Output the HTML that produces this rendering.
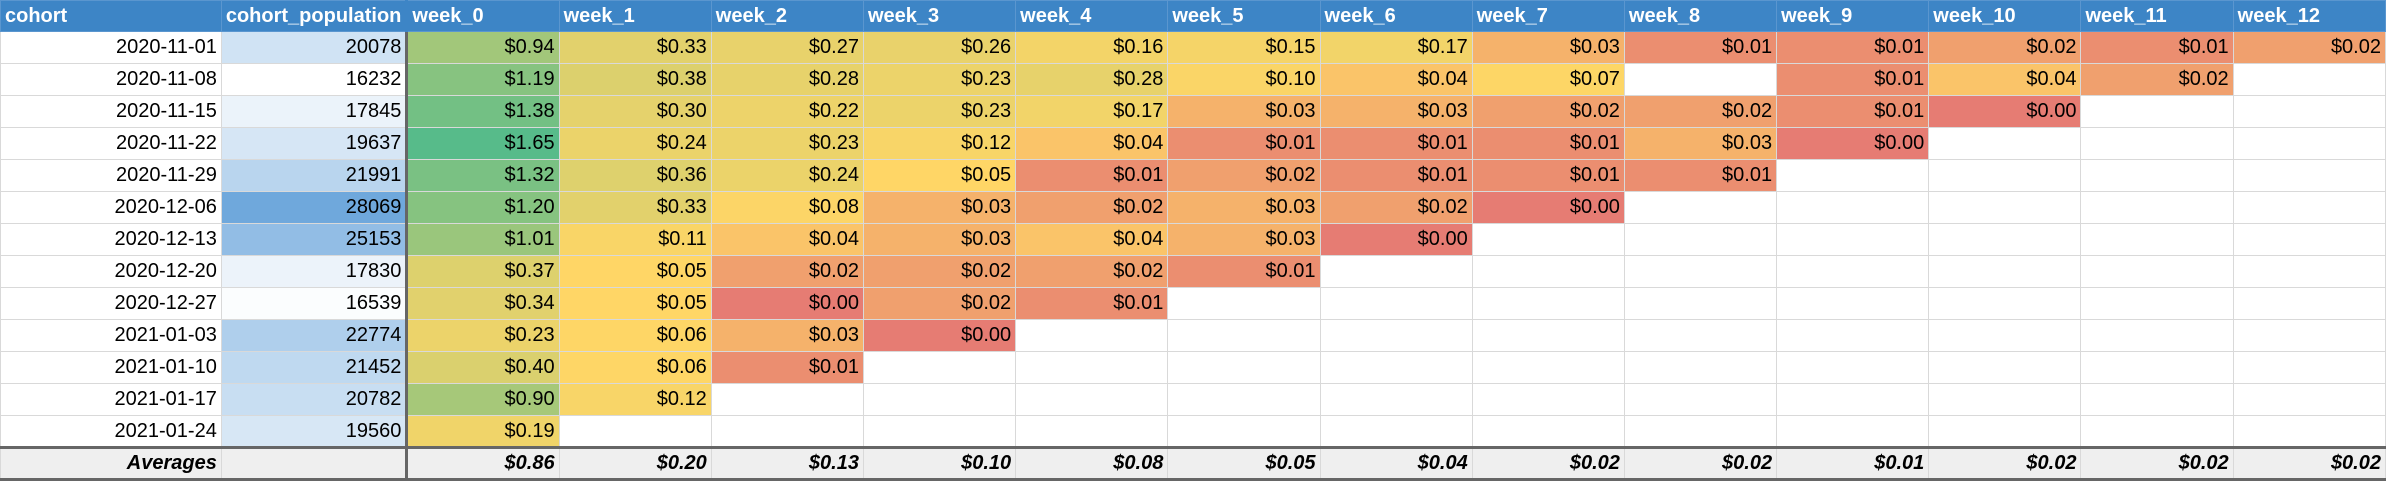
<!DOCTYPE html>
<html><head><meta charset="utf-8">
<style>
html,body{margin:0;padding:0;background:#fff;width:2386px;height:482px;overflow:hidden}
table{border-collapse:collapse;table-layout:fixed;font-family:"Liberation Sans",Arial,sans-serif;font-size:20px;}
td,th{border:1px solid #d9d9d9;height:32px;padding:0 4px;white-space:nowrap;overflow:hidden;text-align:right;box-sizing:border-box}
th{background:#3d85c6;color:#fff;text-align:left;font-weight:bold;border-color:#5a96cf;height:31px}
td.pop{border-right:3px solid #666}
th.pop{border-right:3px solid #3d85c6}
tr.avg td{background:#efefef;font-weight:bold;font-style:italic;border-top:3px solid #666;border-bottom:3px solid #666;height:32px}
</style></head>
<body>
<table id="tbl">
<colgroup><col style="width:221px"><col style="width:185px"></colgroup>
<thead><tr id="hdr"></tr></thead>
<tbody id="body"></tbody>
</table>
<script>
const cohorts=["2020-11-01","2020-11-08","2020-11-15","2020-11-22","2020-11-29","2020-12-06","2020-12-13","2020-12-20","2020-12-27","2021-01-03","2021-01-10","2021-01-17","2021-01-24"];
const populations=[20078,16232,17845,19637,21991,28069,25153,17830,16539,22774,21452,20782,19560];
const weeks=["week_0","week_1","week_2","week_3","week_4","week_5","week_6","week_7","week_8","week_9","week_10","week_11","week_12"];
const revenue=[
[0.94,0.33,0.27,0.26,0.16,0.15,0.17,0.03,0.01,0.01,0.02,0.01,0.02],
[1.19,0.38,0.28,0.23,0.28,0.10,0.04,0.07,null,0.01,0.04,0.02,null],
[1.38,0.30,0.22,0.23,0.17,0.03,0.03,0.02,0.02,0.01,0.00],
[1.65,0.24,0.23,0.12,0.04,0.01,0.01,0.01,0.03,0.00],
[1.32,0.36,0.24,0.05,0.01,0.02,0.01,0.01,0.01],
[1.20,0.33,0.08,0.03,0.02,0.03,0.02,0.00],
[1.01,0.11,0.04,0.03,0.04,0.03,0.00],
[0.37,0.05,0.02,0.02,0.02,0.01],
[0.34,0.05,0.00,0.02,0.01],
[0.23,0.06,0.03,0.00],
[0.40,0.06,0.01],
[0.90,0.12],
[0.19]];
const averages=[0.86,0.20,0.13,0.10,0.08,0.05,0.04,0.02,0.02,0.01,0.02,0.02,0.02];

function mix(a,b,t){return a.map((v,i)=>Math.round(v+(b[i]-v)*t));}
const RED=[230,124,115],YEL=[255,214,102],GRN=[87,187,138];
function heat(v){
  let c;
  if(v<=0.05)c=mix(RED,YEL,Math.max(0,v)/0.05);
  else c=mix(YEL,GRN,Math.min(1,(v-0.05)/1.6));
  return `rgb(${c[0]},${c[1]},${c[2]})`;
}
const pmin=Math.min(...populations),pmax=Math.max(...populations);
function popColor(v){const c=mix([255,255,255],[111,168,220],(v-pmin)/(pmax-pmin));return `rgb(${c[0]},${c[1]},${c[2]})`;}

const hdr=document.getElementById('hdr');
function th(text,name,cls){const e=document.createElement('th');e.textContent=text;


if(cls)e.className=cls;hdr.appendChild(e);}
th('cohort','cohort-header');th('cohort_population','population-header','pop');
weeks.forEach(w=>th(w,w.replace('_','-')+'-header'));
const body=document.getElementById('body');
cohorts.forEach((c,r)=>{
  const tr=document.createElement('tr');
  
  
  let td=document.createElement('td');td.textContent=c;
  
  
  tr.appendChild(td);
  td=document.createElement('td');td.textContent=populations[r];td.className='pop';td.style.background=popColor(populations[r]);
  
  
  tr.appendChild(td);
  weeks.forEach((w,i)=>{
    const cell=document.createElement('td');
    
    
    const v=revenue[r][i];
    if(v!==undefined&&v!==null){cell.textContent='$'+v.toFixed(2);cell.style.background=heat(v);}
    tr.appendChild(cell);
  });
  body.appendChild(tr);
});
const ar=document.createElement('tr');ar.className='avg';


let a=document.createElement('td');a.textContent='Averages';


ar.appendChild(a);
a=document.createElement('td');a.className='pop';


ar.appendChild(a);
averages.forEach(v=>{const c=document.createElement('td');c.textContent='$'+v.toFixed(2);


ar.appendChild(c);});
body.appendChild(ar);
const cg=document.querySelector('colgroup');
weeks.forEach(()=>{const col=document.createElement('col');col.style.width='152.3px';cg.appendChild(col);});
</script>
</body></html>
